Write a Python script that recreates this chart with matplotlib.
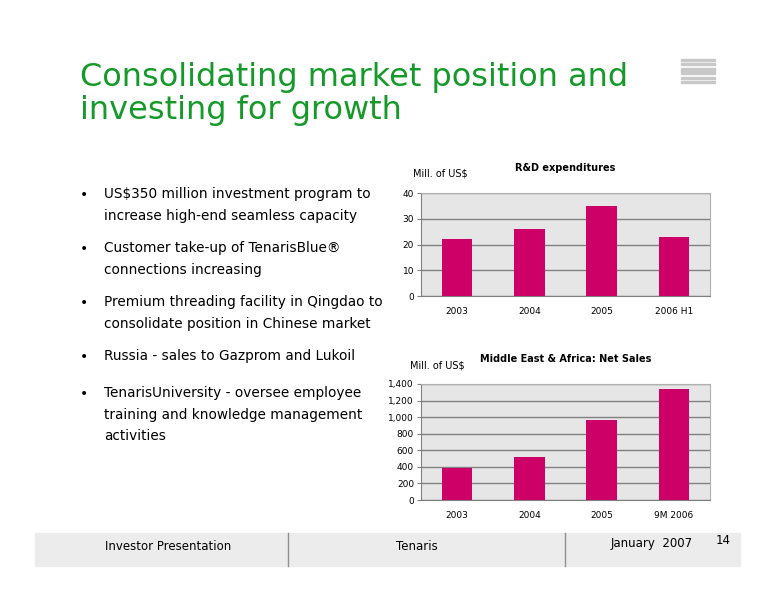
import matplotlib.pyplot as plt
from matplotlib.patches import Rectangle

rd_labels = ['2003', '2004', '2005', '2006 H1']
rd_values = [22, 26, 35, 23]
mea_labels = ['2003', '2004', '2005', '9M 2006']
mea_values = [390, 525, 960, 1340]

bullets = [
    'US$350 million investment program to\nincrease high-end seamless capacity',
    'Customer take-up of TenarisBlue®\nconnections increasing',
    'Premium threading facility in Qingdao to\nconsolidate position in Chinese market',
    'Russia - sales to Gazprom and Lukoil',
    'TenarisUniversity - oversee employee\ntraining and knowledge management\nactivities',
]
bullet_y = [195, 249, 303, 357, 394]

W, H = 776, 600
fig = plt.figure(figsize=(W / 100, H / 100), dpi=100)
green = '#159a2a'
magenta = '#cc0066'

fig.text(80 / W, 1 - 94 / H, 'Consolidating market position and\ninvesting for growth',
         color=green, fontsize=23, va='center', ha='left', linespacing=1.1)

# logo stripes
for y0, h in [(59, 2), (63, 2), (68, 6), (77, 2), (81, 2)]:
    fig.patches.append(Rectangle((681 / W, 1 - (y0 + h) / H), 34 / W, h / H,
                                 color='#c8c8c8', transform=fig.transFigure))

for t, y in zip(bullets, bullet_y):
    fig.text(80 / W, 1 - y / H, '•', fontsize=10, va='center')
    fig.text(104 / W, 1 - (y - 8) / H, t, fontsize=9.8, va='top', linespacing=1.7)


def bar_chart(rect, labels, values, ymax, step, title, fmt):
    ax = fig.add_axes(rect)
    ax.set_facecolor('#e6e6e6')
    ax.bar(range(len(values)), values, width=0.42, color=magenta, zorder=3)
    ax.set_xlim(-0.5, len(values) - 0.5)
    ax.set_ylim(0, ymax)
    ax.set_yticks(range(0, ymax + 1, step))
    ax.set_yticklabels([fmt(v) for v in range(0, ymax + 1, step)], fontsize=6.5)
    ax.set_xticks(range(len(values)))
    ax.set_xticklabels(labels, fontsize=6.5)
    ax.tick_params(axis='x', length=0, pad=8)
    ax.tick_params(axis='y', length=3, color='#808080', pad=2)
    ax.yaxis.grid(True, color='#808080', lw=1, zorder=1)
    for s in ['top', 'right']:
        ax.spines[s].set_color('#b0b0b0')
    for s in ['left', 'bottom']:
        ax.spines[s].set_color('#808080')
    ax.set_title(title, fontsize=7, fontweight='bold', pad=16)
    return ax


bar_chart([421 / W, 1 - 296 / H, 289 / W, 103 / H], rd_labels, rd_values,
          40, 10, 'R&D expenditures', lambda v: str(v))
fig.text(413 / W, 1 - 173 / H, 'Mill. of US$', fontsize=7, va='center')

bar_chart([421 / W, 1 - 500 / H, 289 / W, 116 / H], mea_labels, mea_values,
          1400, 200, 'Middle East & Africa: Net Sales', lambda v: f'{v:,}')
fig.text(410 / W, 1 - 366 / H, 'Mill. of US$', fontsize=7, va='center')

# footer
fig.patches.append(Rectangle((35 / W, 1 - 566 / H), 705 / W, 33 / H, color='#ececec',
                             transform=fig.transFigure, zorder=0))
for x in [288, 565]:
    fig.lines.append(plt.Line2D([x / W, x / W], [1 - 566 / H, 1 - 533 / H],
                                color='#909090', lw=1, transform=fig.transFigure))
fig.text(105 / W, 1 - 546 / H, 'Investor Presentation', fontsize=8.5, va='center')
fig.text(396 / W, 1 - 546 / H, 'Tenaris', fontsize=8.5, va='center')
fig.text(611 / W, 1 - 544 / H, 'January  2007', fontsize=8.5, va='center')
fig.text(716 / W, 1 - 540 / H, '14', fontsize=8.5, va='center')

fig.savefig('out.png', dpi=100)
